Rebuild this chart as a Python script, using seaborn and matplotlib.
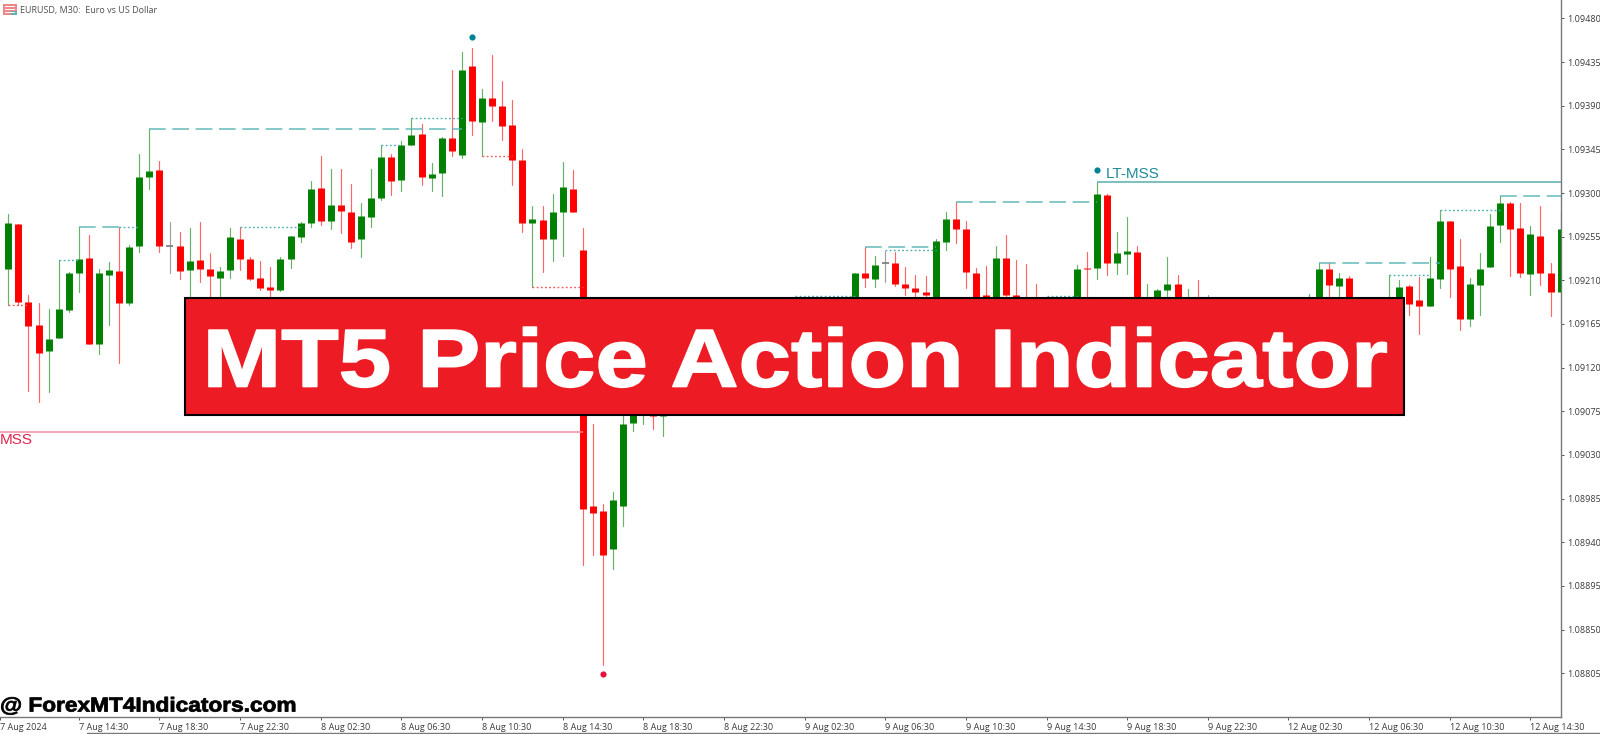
import numpy as np
import pandas as pd
import matplotlib
matplotlib.use("Agg")
import matplotlib.pyplot as plt
import seaborn as sns
from matplotlib.patches import Rectangle
from matplotlib.lines import Line2D
from matplotlib.transforms import Affine2D
from matplotlib import patheffects as pe

# ---------- data: prices in points (1e-5); candles fully hidden by the banner are not listed ----------
candle_index = [-1,0,1,2,3,4,5,6,7,8,9,10,11,12,13,14,15,16,17,18,19,20,21,22,23,24,25,26,27,28,29,30,31,32,33,34,35,36,37,38,39,40,41,42,43,44,45,46,47,48,49,50,51,52,53,54,55,56,57,58,59,60,61,62,63,64,65,
                84,85,86,87,88,89,90,91,92,93,94,95,96,97,98,99,100,101,102,
                106,107,108,109,110,111,112,113,114,115,116,117,118,119,
                129,130,131,132,133,137,138,139,140,141,142,143,144,145,146,147,148,149,150,151,152,153,154]
candle_side = ["U","U","D","D","D","U","U","U","U","D","U","U","D","U","U","U","D","N","D","U","D","D","U","U","D","D","D","D","U","U","U","U","D","U","D","D","U","U","U","D","U","U","D","U","U","D","U","D","U","D","D","D","D","U","D","U","U","D","D","D","D","U","U","U","U","D","U",
               "U","D","U","N","D","D","D","D","U","U","D","D","D","D","U","D","D","D","D",
               "U","D","U","D","U","U","D","U","U","U","D","U","D","N",
               "U","U","D","U","D","U","U","D","D","U","U","D","D","U","U","U","U","D","D","U","D","D","U"]
body_top = [109223,109269,109268,109188,109164,109150,109180,109218,109232,109233,109218,109221,109220,109244,109317,109323,109324,109245,109245,109230,109231,109222,109220,109255,109253,109232,109212,109203,109232,109256,109269,109304,109305,109288,109288,109280,109276,109295,109337,109337,109349,109360,109361,109320,109357,109357,109427,109431,109398,109398,109390,109370,109334,109273,109272,109280,109306,109304,109241,108977,108972,108984,109062,109078,109082,109082,109082,
            109218,109218,109226,109228,109228,109206,109202,109198,109251,109273,109273,109263,109218,109195,109233,109233,109195,109188,109188,
            109222,109223,109299,109298,109238,109240,109239,109188,109200,109206,109206,109193,109193,109190,
            109188,109222,109222,109212,109212,109187,109203,109204,109190,109212,109271,109271,109225,109206,109222,109266,109290,109290,109264,109258,109256,109218,109263]
body_bottom = [109212,109222,109188,109163,109135,109137,109151,109179,109218,109144,109144,109215,109187,109187,109245,109317,109245,109245,109220,109221,109222,109214,109212,109221,109232,109211,109202,109200,109200,109232,109255,109269,109271,109271,109281,109250,109253,109275,109295,109312,109313,109349,109317,109315,109321,109343,109339,109374,109373,109390,109369,109334,109269,109269,109253,109253,109280,109280,108974,108970,108927,108933,108977,109063,109074,109070,109070,
               109179,109212,109211,109228,109206,109202,109198,109195,109179,109250,109263,109219,109179,109188,109179,109195,109188,109179,109179,
               109179,109222,109223,109228,109228,109237,109179,109179,109179,109200,109179,109179,109179,109190,
               109179,109179,109205,109204,109179,109179,109179,109186,109184,109184,109211,109222,109170,109170,109205,109224,109267,109263,109218,109217,109218,109198,109198]
wick_high = [109227,109278,109268,109195,109187,109180,109231,109219,109265,109257,109222,109229,109265,109246,109340,109366,109333,109270,109260,109264,109270,109238,109224,109264,109265,109234,109230,109224,109234,109256,109270,109312,109338,109325,109325,109309,109290,109325,109349,109340,109354,109377,109371,109331,109358,109427,109445,109449,109407,109442,109415,109396,109345,109287,109287,109299,109332,109324,109264,109062,108980,108992,109076,109084,109087,109087,109087,
             109218,109244,109235,109240,109239,109224,109215,109214,109253,109280,109291,109271,109223,109225,109245,109257,109231,109227,109206,
             109226,109239,109311,109299,109260,109275,109245,109206,109201,109234,109215,109201,109210,109195,
             109196,109228,109228,109218,109214,109215,109210,109205,109213,109234,109282,109271,109253,109212,109238,109278,109297,109291,109290,109266,109287,109228,109280]
wick_low = [109205,109185,109185,109096,109085,109095,109151,109177,109198,109144,109134,109164,109125,109185,109239,109304,109239,109218,109211,109190,109208,109190,109190,109212,109221,109210,109200,109190,109199,109223,109250,109265,109267,109263,109259,109243,109234,109265,109293,109298,109302,109349,109308,109302,109297,109338,109336,109360,109338,109374,109355,109308,109260,109203,109219,109230,109235,109280,108917,108927,108814,108912,108957,109055,109062,109057,109050,
            109174,109203,109203,109208,109204,109195,109190,109190,109174,109241,109248,109202,109174,109179,109174,109190,109179,109174,109174,
            109174,109190,109211,109215,109217,109217,109174,109174,109174,109194,109174,109174,109174,109179,
            109174,109174,109190,109190,109174,109174,109174,109174,109155,109184,109202,109193,109159,109163,109174,109224,109250,109214,109213,109195,109205,109173,109198]

# structure levels: (from candle, to candle, price in points)
dashed_from = [14, 7, 85, 94, 130, 148]
dashed_to = [45, 11, 92, 108, 142, 155]
dashed_price = [109366, 109265, 109244, 109291, 109228, 109297]
dotted_from = [11, 5, 23, 37, 40, 87, 78, 103, 137, 142]
dotted_to = [13, 7, 29, 39, 45, 92, 84, 106, 141, 148]
dotted_price = [109265, 109231, 109265, 109349, 109377, 109241, 109194, 109194, 109215, 109282]
red_dotted_from = [0, 47, 52]
red_dotted_to = [2, 50, 57]
red_dotted_price = [109185, 109338, 109203]
lt_mss_from, lt_mss_to, lt_mss_price = [108], [155], [109311]
mss_from, mss_to, mss_price = [-1], [57], [109054]
teal_dot_index, teal_dot_price = [46, 108], [109461, 109324]
red_dot_index, red_dot_price = [59], [108804]

y_ticks = [1.09480,1.09435,1.09390,1.09345,1.09300,1.09255,1.09210,1.09165,1.09120,1.09075,1.09030,1.08985,1.08940,1.08895,1.08850,1.08805]
x_tick_index = [-0.82,7,15,23,31,39,47,55,63,71,79,87,95,103,111,119,127,135,143,151]
x_tick_labels = ["7 Aug 2024","7 Aug 14:30","7 Aug 18:30","7 Aug 22:30","8 Aug 02:30","8 Aug 06:30","8 Aug 10:30","8 Aug 14:30","8 Aug 18:30","8 Aug 22:30",
                 "9 Aug 02:30","9 Aug 06:30","9 Aug 10:30","9 Aug 14:30","9 Aug 18:30","9 Aug 22:30","12 Aug 02:30","12 Aug 06:30","12 Aug 10:30","12 Aug 14:30"]

# ---------- figure ----------
W, H = 1600, 734
sns.set_theme(style="white")
plt.rcParams["font.family"] = ["Open Sans", "DejaVu Sans"]
fig = plt.figure(figsize=(W / 100, H / 100), dpi=100, facecolor="white")
AX_R, AX_B = 1561, 716.7
ax = fig.add_axes([0, (H - AX_B) / H, AX_R / W, AX_B / H])

GREEN, RED, GRAY = "#008000", "#ff0000", "#606060"
palette = {"U": GREEN, "D": RED, "N": GRAY}
candles = pd.DataFrame({"candle": candle_index, "side": candle_side,
                        "top": np.array(body_top) / 1e5, "bottom": np.array(body_bottom) / 1e5,
                        "high": np.array(wick_high) / 1e5, "low": np.array(wick_low) / 1e5})


def long_form(frame, a, b):
    return pd.concat([frame[["candle", "side", a]].rename(columns={a: "price"}),
                      frame[["candle", "side", b]].rename(columns={b: "price"})]).sort_values("candle", kind="stable")


sns.lineplot(data=long_form(candles, "high", "low"), x="candle", y="price", hue="side", units="candle",
             estimator=None, sort=False, palette=palette, legend=False, linewidth=0.85, alpha=0.6, ax=ax, zorder=2)
bodies = candles[candles.side != "N"]
sns.lineplot(data=long_form(bodies, "top", "bottom"), x="candle", y="price", hue="side", units="candle",
             estimator=None, sort=False, palette=palette, legend=False, linewidth=5.0,
             solid_capstyle="butt", ax=ax, zorder=3)
dojis = candles[candles.side == "N"]
ax.hlines(dojis["top"], dojis["candle"] - 0.33, dojis["candle"] + 0.33, color="#808080", lw=1.3, zorder=3)

pts = lambda v: np.array(v) / 1e5
TEAL = "#4db0b0"
ax.hlines(pts(dashed_price), dashed_from, dashed_to, color=TEAL, lw=1.2, linestyles=(0, (10, 4)), alpha=0.8, zorder=4)
ax.hlines(pts(dotted_price), dotted_from, dotted_to, color=TEAL, lw=1.0, linestyles=(0, (1.3, 1.7)), zorder=4)
ax.hlines(pts(red_dotted_price), red_dotted_from, red_dotted_to, color="#f05a5a", lw=1.0, linestyles=(0, (1.3, 1.7)), zorder=4)
ax.hlines(pts(lt_mss_price), lt_mss_from, lt_mss_to, color="#5aaeae", lw=1.1, zorder=4)
ax.hlines(pts(mss_price), mss_from, mss_to, color="#f08ca0", lw=1.1, zorder=4)
ax.scatter(teal_dot_index, pts(teal_dot_price), s=20, color="#008295", linewidths=0, zorder=5)
ax.scatter(red_dot_index, pts(red_dot_price), s=20, color="#e8103c", linewidths=0, zorder=5)

ax.set_xlim(-0.823, 154.04)
ax.set_ylim(1.087603, 1.094989)
ax.set_xlabel("")
ax.set_ylabel("")
for s in ("left", "top"):
    ax.spines[s].set_visible(False)
for s in ("right", "bottom"):
    ax.spines[s].set_color("#777777")
    ax.spines[s].set_linewidth(1.0)
ax.yaxis.tick_right()
ax.set_yticks(y_ticks)
ax.set_yticklabels([f"{v:.5f}" for v in y_ticks])
ax.set_xticks(x_tick_index)
ax.set_xticklabels(x_tick_labels, ha="left")
ax.tick_params(axis="both", length=2.4, width=0.7, color="#555555", labelsize=6.5, labelcolor="#3a3a3a",
               left=False, bottom=True, right=True, pad=2)

# ---------- pixel-positioned overlay ----------
fx = lambda x: x / W
fy = lambda y: (H - y) / H

fig.text(fx(0), fy(440), "MSS", color="#e0244c", fontsize=11, family="Liberation Sans", va="center", ha="left")
fig.text(fx(1106), fy(173.5), "LT-MSS", color="#1f8d99", fontsize=11, family="Liberation Sans", va="center", ha="left")
fig.text(fx(20.5), fy(10), "EURUSD, M30:  Euro vs US Dollar", color="#505050", fontsize=6.5, va="center", ha="left")

# chart icon
fig.add_artist(Rectangle((fx(3), fy(15)), 13.5 / W, 11 / H, transform=fig.transFigure, fc="#ee8888", ec="none"))
fig.add_artist(Rectangle((fx(11), fy(15)), 5.5 / W, 4 / H, transform=fig.transFigure, fc="#5fb0b0", ec="none"))
for yy in (7, 10, 12.5):
    fig.add_artist(Rectangle((fx(4.5), fy(yy)), 10.5 / W, 1 / H, transform=fig.transFigure, fc="white", ec="none"))

# bottom strip
fig.add_artist(Line2D([fx(87), 1], [fy(733), fy(733)], color="#777777", lw=1.0))

# banner
fig.add_artist(Rectangle((fx(185), fy(414.5)), (1404 - 185) / W, (414.5 - 298) / H, transform=fig.transFigure,
                         fc="#ed1c24", ec="black", lw=1.5, zorder=5))


class Stretch(pe.AbstractPathEffect):
    """Widen and thicken the glyphs about a pixel column, as the reference's lettering is widened."""
    def __init__(self, sx, cx, stroke):
        super().__init__()
        self.sx, self.cx, self.stroke = sx, cx, stroke

    def draw_path(self, renderer, gc, tpath, affine, rgbFace=None):
        a = affine + Affine2D().translate(-self.cx, 0).scale(self.sx, 1).translate(self.cx, 0)
        g = renderer.new_gc()
        g.copy_properties(gc)
        g.set_foreground(rgbFace)
        g.set_linewidth(self.stroke)
        renderer.draw_path(g, tpath, a, rgbFace)
        g.restore()


fig.text(fx(796), fy(386.5), "MT5 Price Action Indicator", color="white", fontsize=59, weight="bold",
         family="Liberation Sans", ha="center", va="baseline", zorder=6,
         path_effects=[Stretch(1.15, 796, 1.2)])

fig.text(fx(0), fy(706), "@ ForexMT4Indicators.com", color="black", fontsize=14.5, weight="bold",
         family="Liberation Sans", ha="left", va="center", zorder=6,
         path_effects=[Stretch(1.125, 0, 0.6)])

fig.savefig("out.png", dpi=100, facecolor="white")
